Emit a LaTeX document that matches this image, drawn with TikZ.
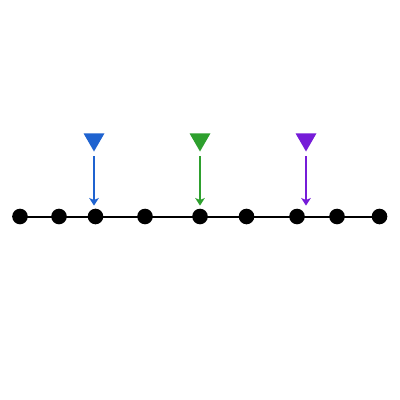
\documentclass[tikz,border=0pt]{standalone}
\usetikzlibrary{arrows.meta,shapes.geometric}
\definecolor{markblue}{HTML}{1F63D0}
\definecolor{markgreen}{HTML}{2EA02E}
\definecolor{markpurple}{HTML}{761CD8}
\begin{document}
\begin{tikzpicture}[x=0.025cm, y=-0.025cm]
\tikzset{
    dot/.style={circle, fill=black, inner sep=0pt, minimum size=0.39cm},
    marker/.style={regular polygon, regular polygon sides=3, shape border rotate=180, inner sep=0pt, minimum size=0.6cm, fill=#1},
    myarrow/.style={-{Stealth[length=0.19cm, width=0.24cm, inset=0.05cm]}, line width=0.05cm, shorten <=0.1cm, shorten >=0.07cm}
}
\useasboundingbox (0,0) rectangle (400,400);
\fill[white] (0,0) rectangle (400,400);
\draw[line width=0.05cm] (20,216.5) -- (379.5,216.5);
\foreach \x [count=\i] in {20,59,95.5,145,200,246.5,297,337,379.5}
    \node[dot] (d\i) at (\x,216.5) {};

\node[marker=markblue] (m1) at (94,139.5) {};
\node[marker=markgreen] (m2) at (200,139.5) {};
\node[marker=markpurple] (m3) at (306,139.5) {};

\draw[myarrow, markblue] (m1.south) -- (m1.south |- d3.north);
\draw[myarrow, markgreen] (m2.south) -- (m2.south |- d5.north);
\draw[myarrow, markpurple] (m3.south) -- (m3.south |- d7.north);
\end{tikzpicture}
\end{document}
